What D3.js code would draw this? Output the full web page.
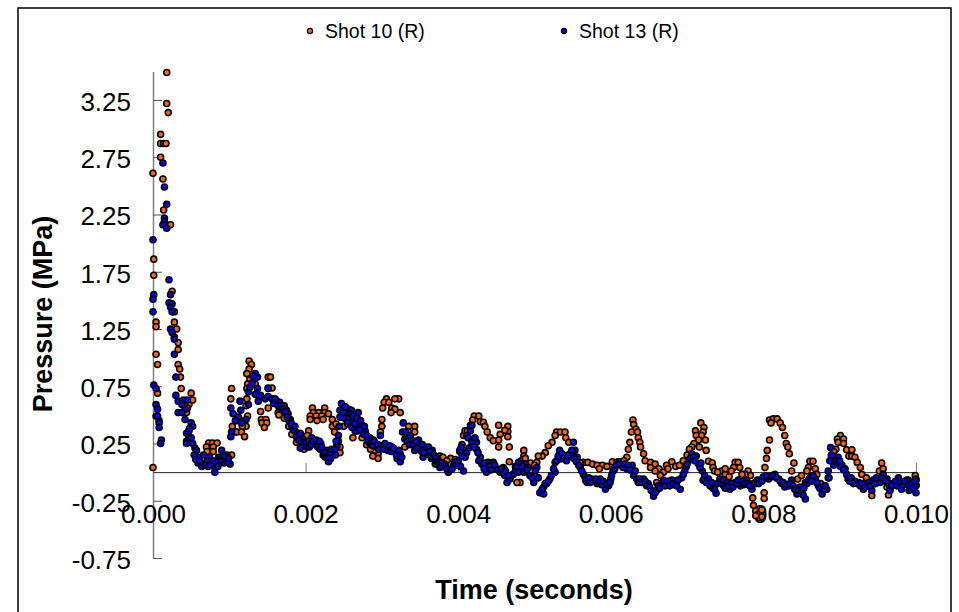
<!DOCTYPE html>
<html>
<head>
<meta charset="utf-8">
<script src="https://cdn.jsdelivr.net/npm/d3@7"></script>
<style>
    html, body { margin: 0; padding: 0; background: #fff; }
    svg { display: block; }
    text { font-family: "Liberation Sans", Arial, sans-serif; fill: #000; }
</style>
</head>
<body>
<script>
    "use strict";
    const xTicks = [0, 0.002, 0.004, 0.006, 0.008, 0.010];
    const yTicks = [-0.75, -0.25, 0.25, 0.75, 1.25, 1.75, 2.25, 2.75, 3.25];
    const seriesNames = ["Shot 10 (R)", "Shot 13 (R)"];

    // [time, pressure]
    const shot10 = [
        [.00018,3.49],[.00018,3.22],[.0002,3.14],[.0001,2.95],[.0001,2.87],[.00014,2.87],[.00017,2.87],[.0001,2.75],[.00013,2.56],[0,2.61],
        [.00014,2.29],[.00023,2.16],[.00001,1.86],[.00001,1.72],[.00004,1.31],[.00004,1.27],[.00004,1.03],[.00006,.94],[.00006,.69],[.00008,.45],[0,.04],
        [.00025,1.58],[.00028,1.40],[.00028,1.31],[.00031,1.25],[.00033,1.13],[.00033,1.07],[.00033,.94],[.00035,.90],[.00036,.83],[.00037,.73],
        [.0005,.69],[.00052,.63],[.00047,.59],[.00042,.6],[.00044,.52],[.00045,.56],
        [.00073,.255],[.00078,.255],[.00084,.255],[.0007,.22],[.00079,.22],[.00071,.18],[.00079,.18],[.00103,.15],
        [.00126,.97],[.00129,.94],[.00126,.90],[.00123,.86],[.00127,.81],[.00124,.77],[.00134,.77],[.00123,.73],[.00151,.83],[.00154,.83],
        [.00151,.735],[.00156,.735],[.00103,.73],[.00102,.64],[.00123,.64],[.00122,.58],[.00141,.53],[.00151,.56],[.00142,.46],[.00148,.46],
        [.00143,.43],[.00149,.43],[.00146,.39],[.00104,.40],[.00107,.35],[.0011,.35],[.00116,.35],[.0012,.31],[.00122,.40],[.00117,.40],
        [.0011,.45],[.00115,.45],[.00124,.49],[.00164,.52],[.00168,.52],
        [.00209,.56],[.00225,.56],[.0021,.52],[.00217,.52],[.00225,.52],[.0023,.51],[.00206,.49],[.00214,.49],[.00221,.49],[.00206,.46],
        [.00215,.45],[.00223,.46],[.00235,.46],[.00235,.40],[.00238,.35],[.00204,.36],[.00202,.32],[.00245,.22],[.00245,.17],
        [.00306,.64],[.00322,.64],[.00317,.64],[.00303,.61],[.00309,.61],[.00301,.56],[.00313,.56],[.00317,.55],[.00324,.52],[.00312,.52],
        [.003,.46],[.003,.40],[.00298,.35],[.00335,.40],[.00343,.40],[.00335,.35],[.00343,.35],[.00337,.30],[.0033,.22],[.00289,.28],
        [.00295,.16],[.00295,.12],[.00291,.19],
        [.00376,.14],[.0038,.13],[.0039,.12],[.00396,.11],[.0036,.2],[.00365,.15],
        [.00421,.49],[.00427,.49],[.00419,.455],[.00429,.44],[.00433,.435],[.00435,.40],[.00438,.35],[.00442,.30],[.00446,.275],[.00453,.41],
        [.00465,.40],[.00465,.355],[.00465,.31],[.00455,.33],[.00461,.365],[.00453,.28],[.00453,.22],[.00467,.22],[.00467,.09],[.00407,.32],
        [.00409,.36],[.00416,.41],[.00486,.19],[.00486,.14],[.00481,-.09],[.00477,-.09],[.0046,.03],[.0048,.05],
        [.00529,.35],[.00534,.35],[.0054,.35],[.00527,.32],[.00541,.30],[.00545,.26],[.00523,.26],[.00518,.23],[.00514,.17],[.0051,.14],[.00505,.14],[.00503,.085],
        [.00564,.085],[.0057,.085],[.00576,.07],[.00582,.06],[.00589,.06],[.00595,.05],[.00602,.09],[.00608,.085],[.00612,.09],[.00585,.03],[.00605,.03],
        [.00629,.455],[.0063,.415],[.00633,.375],[.00627,.35],[.00635,.35],[.00636,.30],[.00625,.26],[.00623,.20],[.00621,.13],[.00638,.26],
        [.00639,.22],[.00643,.16],[.00645,.10],[.00652,.085],[.00658,.07],[.00663,.03],[.00669,0],[.00673,.06],[.00658,.01],[.0066,-.09],
        [.00718,.43],[.00722,.39],[.00711,.36],[.00721,.35],[.00712,.32],[.00719,.32],[.00715,.28],[.00724,.28],[.00709,.25],[.00725,.19],
        [.00706,.22],[.00716,.22],[.00728,.095],[.00733,.08],[.00734,.04],[.00736,.01],[.00745,.01],[.0075,-.02],
        [.00763,.085],[.00767,.085],[.00761,.04],[.00758,.01],[.00769,.04],[.0078,.01],[.00783,-.03],[.00776,-.02],
        [.00801,-.18],[.00801,-.23],[.00786,-.225],[.00787,-.29],[.0079,-.34],[.00794,-.365],[.00798,-.33],[.00795,-.40],[.00798,-.39],[.0079,-.38],
        [.00802,.04],[.00804,.12],[.00805,.19],[.00808,.28],[.00808,.455],[.00813,.465],[.00818,.465],[.0081,.43],[.00822,.43],[.00825,.39],
        [.00828,.32],[.0083,.25],[.00832,.22],[.00834,.16],[.0084,.08],[.00837,.01],
        [.00861,.095],[.00865,.095],[.00859,.04],[.00857,.01],[.00855,-.09],[.00868,.03],
        [.00901,.32],[.00897,.29],[.00905,.29],[.00898,.26],[.00905,.25],[.00895,.20],[.00909,.195],[.00916,.195],[.00912,.14],[.00916,.14],
        [.0092,.13],[.00923,.085],[.00927,.04],[.00929,-.02],[.00955,.08],[.00952,.01],[.00957,.03],[.00962,-.13],[.00964,-.20],[.00966,-.14],
        [.00999,-.03],[.01,-.07],[.01,-.11],[.00942,-.205],
        // mostly hidden under shot 13
        [.00165,.5],[.00172,.47],[.00178,.4],[.00182,.33],[.00188,.26],[.00194,.23],[.00198,.2],[.00204,.26],[.0024,.42],[.0025,.4],
        [.00255,.42],[.00262,.3],[.00268,.36],[.00274,.3],[.0028,.24],[.00285,.2],[.00288,.14],[.0035,.2],[.00355,.19],[.0037,.12],
        [.00385,.1],[.00402,.18],[.00405,.24],[.00412,.36],[.00475,.05],[.00483,.1],[.00488,.12],[.00495,.08],[.005,.06],[.00548,.17],
        [.00552,.12],[.00556,.1],[.0056,.08],[.0061,.09],[.00617,.1],[.00652,.04],[.00665,-.03],[.00675,.03],[.0068,.09],[.00685,.05],
        [.0069,.06],[.00695,.1],[.007,.15],[.00703,.2],[.0074,0],[.0075,.03],[.00755,-.04],[.00772,-.02],[.0079,-.1],[.00795,-.08],
        [.00845,-.06],[.0085,-.03],[.0087,-.02],[.00875,-.1],[.00885,-.05],[.00892,.18],[.00935,-.05],[.0094,-.1],[.00947,-.1],[.0096,-.08],
        [.0097,-.1],[.00985,-.1],[.0099,-.07],[.00995,-.09]
    ];
    const shot13 = [
        [.00013,2.70],[.00015,2.49],[.00018,2.34],[.00015,2.22],[.00015,2.19],[.00013,2.16],[.00018,2.13],[0,2.03],
        [.00001,1.55],[0,1.51],[0,1.40],[.00021,1.68],[.00023,1.55],[.00021,1.48],[.00025,1.47],[.00023,1.44],[.00025,1.40],[.00023,1.25],
        [.00025,1.22],[.00028,1.18],[.00028,1.16],[.00028,1.03],[.0003,.83],[.00001,.76],[.00004,.73],[.00004,.59],[.00006,.55],[.00004,.49],
        [.00006,.49],[.00008,.43],[.00008,.39],[.00011,.28],[.0001,.25],
        [.0003,.67],[.00033,.62],[.0004,.63],[.00045,.63],[.00038,.59],[.00042,.55],[.00033,.52],[.00038,.52],[.00042,.46],[.0005,.43],
        [.00052,.40],[.00047,.36],[.00044,.34],[.00047,.31],[.00044,.27],[.00044,.25],[.00052,.25],[.00055,.21],[.00057,.19],[.00066,.15],
        [.00059,.13],[.00074,.13],[.00059,.08],[.00066,.07],[.00081,.04],[.00081,0],[.0009,.19],[.00097,.15],[.00086,.13],[.00093,.08],
        [.00101,.07],[.00071,.1],[.00077,.08],[.00087,.08],[.00096,.11],
        [.00102,.56],[.00114,.62],[.00125,.59],[.00105,.51],[.00115,.54],[.00112,.48],[.00122,.46],[.00103,.35],[.00102,.31],[.00108,.45],
        [.00116,.43],[.00125,.70],[.00127,.74],[.0013,.78],[.00137,.83],[.00134,.86],[.00131,.84],[.00137,.73],[.00134,.68],[.00138,.62],
        [.00141,.67],[.00147,.64],[.00151,.73],[.00151,.66],[.00156,.64],[.00162,.62],[.00166,.61],[.00172,.58],[.00175,.54],[.00177,.51],
        [.0018,.46],[.00182,.40],[.00187,.35],[.0019,.32],[.00196,.29],[.00202,.22],[.00193,.21],[.00208,.30],[.00212,.25],[.0022,.25],
        [.00223,.19],[.00228,.19],[.00223,.15],[.00233,.12],[.0023,.09],[.00236,.19],[.00241,.23],[.00243,.27],[.00243,.32],[.00247,.60],
        [.00245,.54],[.00245,.48],[.00244,.40],[.00256,.55],[.00254,.51],[.0026,.54],[.00263,.46],[.00258,.43],[.00265,.36],[.00269,.41],
        [.00269,.52],[.00269,.46],[.00274,.41],[.00278,.36],[.00284,.30],[.00284,.25],[.00293,.22],[.00298,.32],[.003,.23],[.00306,.22],
        [.00313,.22],[.00317,.19],[.00324,.16],[.0032,.12],[.00324,.09],[.00328,.43],[.00327,.35],[.0033,.29],[.00339,.28],[.00348,.28],
        [.00343,.19],[.0035,.23],[.00357,.22],[.00361,.22],[.00366,.19],[.00354,.13],[.00359,.16],[.00365,.12],[.00373,.12],[.0037,.07],
        [.00382,.07],[.00376,.04],[.00387,0],[.00394,.06],[.004,.10],[.00407,.01],[.00402,.19],[.00411,.17],[.00409,.13],[.00418,.26],
        [.00424,.26],[.00416,.36],[.00418,.41],[.00411,.32],[.00424,.20],[.00429,.13],[.00431,.07],[.00437,.06],[.00437,0],[.00439,.085],
        [.00446,.085],[.0045,.03],[.00455,0],[.00459,.04],[.00464,-.09],[.00468,-.06],[.00472,-.02],[.00475,.01],[.00479,0],[.00479,.085],
        [.00488,.07],[.00492,.04],[.00499,-.09],[.00503,.04],[.00505,-.05],[.00507,-.18],[.00512,-.19],[.00512,-.13],[.00516,-.10],[.0052,-.06],
        [.00527,0],[.00527,.085],[.00533,.19],[.00534,.115],[.0054,.13],[.00547,.14],[.00551,.26],[.00553,.19],[.00556,.13],[.0056,.04],
        [.00564,-.02],[.00569,-.09],[.00575,-.06],[.00582,-.10],[.00586,-.06],[.00593,-.15],[.00597,-.12],[.006,-.06],[.00603,.01],[.0061,.085],
        [.00614,.06],[.00621,.03],[.00628,.06],[.0063,-.03],[.00636,-.09],[.00643,-.06],[.00649,-.10],[.00656,-.21],[.0066,-.16],[.00667,-.10],
        [.00673,-.10],[.0068,-.07],[.00684,-.09],[.00691,-.15],[.00693,-.05],[.00697,.01],[.00702,.10],[.00706,.16],[.00712,.14],[.00715,.07],
        [.0072,.01],[.00721,-.07],[.00728,-.06],[.0073,-.12],[.00738,-.185],[.00743,-.06],[.00748,-.12],[.00756,-.15],[.00763,-.09],[.0077,-.12],
        [.00778,-.07],[.00785,-.15],[.00787,-.10],[.00796,-.07],[.00802,-.05],[.00807,-.06],[.00815,-.02],[.0082,-.06],[.00824,-.10],[.00833,-.12],
        [.00837,-.07],[.00844,-.19],[.00848,-.13],[.00855,-.235],[.00857,-.10],[.00861,-.05],[.00868,-.06],[.00872,-.12],[.00877,-.19],[.00883,-.15],
        [.00885,.01],[.00888,.215],[.00891,.13],[.00892,.06],[.00898,.13],[.00903,.06],[.00907,.03],[.00911,-.06],[.00918,-.10],[.00925,-.09],
        [.00931,-.15],[.00936,-.12],[.00942,-.16],[.00944,-.07],[.00951,-.06],[.00957,-.02],[.00962,-.06],[.00966,-.16],[.00971,-.10],[.00977,-.05],
        [.00981,-.15],[.00988,-.07],[.00991,-.16],[.01,-.06],[.01,-.12],[.01,-.18],
        // second pass through the thick part of the band
        [.0005,.3],[.00048,.38],[.00054,.15],[.00056,.11],[.00061,.1],[.00064,.05],[.00069,.06],[.00072,.05],[.00075,.06],[.00079,.1],
        [.00083,.09],[.00085,.05],[.00089,.11],[.00091,.14],[.00094,.14],[.00098,.09],[.00099,.12],
        [.00158,.6],[.0016,.64],[.00164,.58],[.00168,.58],[.0017,.55],[.00173,.53],[.00176,.48],[.00178,.45],[.00181,.43],[.00184,.37],
        [.00186,.4],[.00188,.31],[.00191,.28],[.00193,.34],[.00195,.26],[.00198,.24],[.002,.26],[.00204,.27],[.00205,.22],[.00207,.24],
        [.0021,.27],[.00214,.28],[.00216,.22],[.00218,.27],[.00219,.2],[.00221,.22],[.00225,.17],[.00226,.13],[.00229,.14],[.00231,.13],
        [.00232,.17],[.00234,.2],[.00238,.2],[.00239,.15],[.0024,.27],
        [.00249,.52],[.00251,.47],[.00252,.57],[.00255,.44],[.00257,.48],[.00259,.51],[.00261,.39],[.00262,.49],[.00264,.42],[.00267,.47],
        [.00271,.37],[.00272,.45],[.00276,.33],[.00277,.4],[.0028,.32],[.00282,.27],[.00286,.26],[.00288,.23],[.0029,.27],[.00295,.24],
        [.00296,.2],[.00303,.2],[.00304,.25],[.00308,.19],[.0031,.23],[.00312,.18],[.00315,.21],[.00319,.15],[.00322,.19],[.00326,.13],
        [.00331,.35],[.00333,.27],[.00336,.24],[.00337,.32],[.00341,.24],[.00345,.27],[.00346,.21],[.00352,.18],[.00353,.24],[.00355,.17],
        [.00363,.18],[.00364,.14],[.00368,.15],[.0037,.13],[.00372,.09],[.00375,.09],[.00378,.08],[.00379,.05],[.00384,.05],[.00385,.03],
        [.0039,.02],[.00392,.03],[.00396,.09],[.00398,.06],
        [.00403,.05],[.00405,.14],[.00404,.22],[.00413,.3],[.00414,.21],[.0042,.22],[.00422,.3],[.00426,.17],[.00427,.1],[.00433,.08],
        [.00434,.03],[.00441,.05],[.00443,.02],[.00448,.06],[.00452,.02],[.00457,.03],[.00461,-.03],[.00462,.01],[.00466,-.03],[.00477,.05],
        [.00482,.07],[.00484,.05],[.00486,0],[.0049,.02],[.00494,-.03],[.00497,-.05],[.00501,.01],[.0051,-.15],[.00514,-.1],[.00518,-.08],
        [.00522,-.03],[.00525,.03],[.00529,.1],[.00531,.14],[.00536,.16],[.00538,.12],[.00542,.1],[.00544,.15],[.00549,.19],[.00552,.12],
        [.00555,.09],[.00558,.06],[.00562,.01],[.00566,-.04],[.00567,-.07],[.00571,-.05],[.00573,-.09],[.00578,-.08],[.0058,-.06],[.00584,-.09],
        [.00588,-.11],[.0059,-.08],[.00595,-.1],[.00599,-.09],[.00601,-.03],[.00605,.03],[.00607,.06],[.00612,.07],[.00616,.04],[.00618,.07],
        [.00623,.06],[.00625,.02],[.00632,.01],[.00634,-.06],[.00638,-.06],[.0064,-.09],[.00645,-.08],[.00647,-.12],[.00651,-.13],[.00653,-.16],
        [.00658,-.18],[.00662,-.12],[.00664,-.14],[.00669,-.07],[.00671,-.12],[.00675,-.08],[.00677,-.12],[.00682,-.11],[.00686,-.12],[.00688,-.07],
        [.00695,-.02],[.00699,.05],[.007,.07],[.00704,.12],[.00708,.13],[.0071,.1],[.00717,.04],[.00718,.08],[.00723,-.03],[.00725,-.09],
        [.00732,-.09],[.00734,-.14],[.00736,-.15],[.0074,-.1],[.00745,-.09],[.00747,-.07],[.0075,-.14],[.00752,-.09],[.00754,-.12],[.00758,-.1],
        [.0076,-.13],[.00765,-.1],[.00767,-.07],[.00772,-.08],[.00774,-.11],[.00776,-.1],[.0078,-.1],[.00782,-.12],[.00789,-.09],[.00792,-.07],
        [.00794,-.1],[.00798,-.08],[.008,-.04],[.00804,-.03],[.0081,-.04],[.00812,-.03],[.00817,-.05],[.00822,-.08],[.00826,-.09],[.00828,-.13],
        [.0083,-.11],[.00835,-.1],[.00839,-.12],[.00841,-.15],[.00846,-.16],[.0085,-.17],[.00852,-.2],[.00853,-.14],[.00859,-.07],[.00863,-.08],
        [.00865,-.03],[.0087,-.09],[.00874,-.14],[.00879,-.15],[.00881,-.12],[.00886,-.05],[.00887,.1],[.00889,.15],[.00894,.09],[.00896,.1],
        [.009,.1],[.00901,.05],[.00905,.02],[.00909,-.02],[.00913,-.08],[.00915,-.05],[.0092,-.08],[.00923,-.1],[.00927,-.12],[.00929,-.1],
        [.00933,-.13],[.00938,-.09],[.0094,-.12],[.00946,-.1],[.00948,-.05],[.00953,-.09],[.00955,-.05],[.00959,-.07],[.00964,-.1],[.00968,-.12],
        [.00973,-.08],[.00975,-.12],[.00979,-.09],[.00983,-.11],[.00985,-.08],[.0099,-.11],[.00994,-.1],[.00996,-.14],[.00998,-.08]
    ];

    const colors = ["#FF6600", "#0000FF"];

    let width = 959;
    let height = 612;

    let svg = d3.select("body")
        .append("svg")
            .attr("width", width)
            .attr("height", height);

    // outer chart frame, runs off the bottom of the picture
    svg.append("rect")
        .attr("x", 18)
        .attr("y", 8)
        .attr("width", 933)
        .attr("height", 640)
        .attr("fill", "none")
        .attr("stroke", "#000")
        .attr("stroke-width", 1.5);

    let xScale = d3.scaleLinear().domain([0, 0.01]).range([153, 916]);
    let yScale = d3.scaleLinear().domain([-0.75, 3.5]).range([558, 71.4]);

    drawAxes();
    plotSeries(shot10, colors[0]);
    plotSeries(shot13, colors[1]);
    drawLegend();

    function drawAxes() {
        let yAxis = d3.axisLeft(yScale)
            .tickValues(yTicks)
            .tickFormat((d) => d.toFixed(2))
            .tickSizeInner(-9)
            .tickSizeOuter(0)
            .tickPadding(22);

        let yG = svg.append("g")
            .attr("transform", "translate(153,0)")
            .call(yAxis);
        yG.select(".domain").attr("stroke", "#808080").attr("stroke-width", 1.5);
        yG.selectAll(".tick line").attr("stroke", "#555").attr("stroke-width", 1);
        yG.selectAll("text")
            .attr("dy", "0.4em")
            .style("font-size", "26px");

        let xAxis = d3.axisBottom(xScale)
            .tickValues(xTicks)
            .tickFormat((d) => d.toFixed(3))
            .tickSizeInner(-9)
            .tickSizeOuter(0)
            .tickPadding(32);

        let xG = svg.append("g")
            .attr("transform", "translate(0," + yScale(0) + ")")
            .call(xAxis);
        xG.select(".domain").attr("stroke", "#222").attr("stroke-width", 1);
        xG.selectAll(".tick line").attr("stroke", "#808080").attr("stroke-width", 1);
        xG.selectAll("text").style("font-size", "26px");

        svg.append("text")
            .attr("transform", "translate(534,599)")
            .style("text-anchor", "middle")
            .style("font-size", "27px")
            .style("font-weight", "bold")
            .text("Time (seconds)");

        svg.append("text")
            .attr("transform", "translate(52,314) rotate(-90)")
            .style("text-anchor", "middle")
            .style("font-size", "27px")
            .style("font-weight", "bold")
            .text("Pressure (MPa)");
    }

    function plotSeries(points, color) {
        svg.append("g")
            .selectAll("circle")
            .data(points)
            .enter()
            .append("circle")
                .attr("cx", (d) => xScale(d[0]))
                .attr("cy", (d) => yScale(d[1]))
                .attr("r", 3)
                .attr("fill", color)
                .attr("stroke", "#000")
                .attr("stroke-width", 1.6);
    }

    function drawLegend() {
        let legendX = [310, 564];
        seriesNames.forEach((name, i) => {
            svg.append("circle")
                .attr("cx", legendX[i])
                .attr("cy", 31)
                .attr("r", 2.6)
                .attr("fill", colors[i])
                .attr("stroke", "#000")
                .attr("stroke-width", 1.2);
            svg.append("text")
                .attr("x", legendX[i] + 15)
                .attr("y", 38)
                .style("font-size", "19.5px")
                .text(name);
        });
    }
</script>
</body>
</html>
